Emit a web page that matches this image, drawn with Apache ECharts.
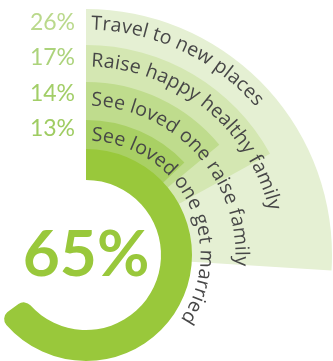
<!DOCTYPE html>
<html>
<head>
<meta charset="utf-8">
<script src="https://cdn.jsdelivr.net/npm/echarts@6/dist/echarts.min.js"></script>
<style>
  html, body { margin: 0; padding: 0; background: #ffffff; }
  #chart { width: 333px; height: 361px; }
</style>
</head>
<body>
<div id="chart"></div>
<script>
// Life goals and the share of people naming each one
const goals = ['Travel to new places', 'Raise happy healthy family', 'See loved one raise family', 'See loved one get married'];
const shares = [26, 17, 14, 13];
const overall = 65;

const bandColors = ['#e5f0d3', '#d4e7b2', '#bfdc8d', '#a9d064'];
const shareColors = ['#bad98c', '#acd37b', '#a2ce67', '#9fcc62'];
const ringColor = '#99c83b';
const textColor = '#474747';

// Layout
const cx = 86, cy = 255;
const ringInner = 75, ringOuter = 106;
const bandOuter = [246, 210, 173, 135];
const baseline = [224, 187, 148, 113];
const shareBaseline = [31, 66, 102, 137];
const fontFamily = 'Lato, "Open Sans", sans-serif';
const arcFamily = '"Open Sans", Lato, sans-serif';
const arcFont = 19.5;
const letterGap = 0.1;
const shareFont = 23;

const chart = echarts.init(document.getElementById('chart'), null, { renderer: 'canvas' });

const transparent = { color: 'rgba(0,0,0,0)' };

// One sector per goal, drawn from the largest outward band to the smallest
const bandSeries = goals.map((g, i) => ({
  type: 'pie',
  name: g,
  center: [cx, cy],
  radius: [ringOuter - 12, bandOuter[i]],
  startAngle: 90,
  clockwise: true,
  silent: true,
  animation: false,
  label: { show: false },
  labelLine: { show: false },
  itemStyle: { borderRadius: [0, 8, 0, 0] },
  data: [
    { value: shares[i], name: g, itemStyle: { color: bandColors[i] } },
    { value: 100 - shares[i], name: '', itemStyle: transparent }
  ]
}));

const ringSeries = {
  type: 'pie',
  name: 'overall',
  center: [cx, cy],
  radius: [ringInner, ringOuter],
  startAngle: 90,
  clockwise: true,
  silent: true,
  animation: false,
  labelLine: { show: false },
  itemStyle: { borderRadius: [0, 9, 0, 9] },
  data: [
    {
      value: overall,
      itemStyle: { color: ringColor },
      label: {
        show: true,
        position: 'center',
        formatter: '{c}%',
        color: ringColor,
        fontFamily: fontFamily,
        fontWeight: 'bold',
        fontSize: 64
      }
    },
    { value: 100 - overall, itemStyle: transparent, label: { show: false } }
  ]
};

// Curved goal captions: each character placed along its band's arc
const measure = document.createElement('canvas').getContext('2d');
measure.font = arcFont + 'px ' + arcFamily;
const graphics = [];
goals.forEach((g, i) => {
  const r = baseline[i];
  const mid = r + arcFont * 0.36;
  const start = 5;
  for (let k = 0; k < g.length; k++) {
    const ch = g[k];
    if (ch === ' ') continue;
    const before = measure.measureText(g.slice(0, k)).width + k * letterGap;
    const w = measure.measureText(ch).width;
    const s = start + before + w / 2;
    const theta = s / r;
    graphics.push({
      type: 'text',
      x: cx + mid * Math.sin(theta),
      y: cy - mid * Math.cos(theta),
      rotation: -theta,
      silent: true,
      z: 100,
      style: {
        text: ch,
        font: arcFont + 'px ' + arcFamily,
        fill: textColor,
        align: 'center',
        verticalAlign: 'middle'
      }
    });
  }
  graphics.push({
    type: 'text',
    x: 75,
    y: shareBaseline[i] + 3,
    silent: true,
    z: 100,
    style: {
      text: shares[i] + '%',
      font: shareFont + 'px ' + fontFamily,
      fill: shareColors[i],
      align: 'right',
      verticalAlign: 'bottom'
    }
  });
});

chart.setOption({
  animation: false,
  backgroundColor: '#ffffff',
  series: [...bandSeries, ringSeries],
  graphic: { elements: graphics }
});
</script>
</body>
</html>
